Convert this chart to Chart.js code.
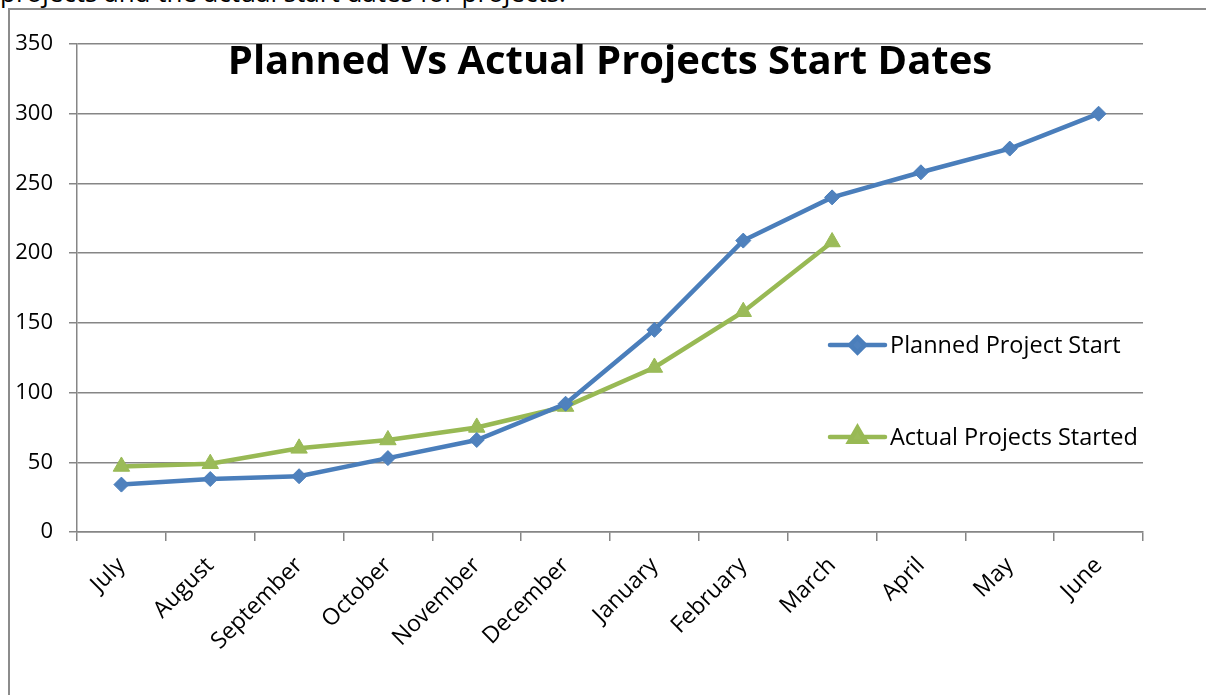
<!DOCTYPE html>
<html>
<head>
<meta charset="utf-8">
<script src="https://cdn.jsdelivr.net/npm/chart.js@4"></script>
<style>
  html, body { margin: 0; padding: 0; background: #fff; overflow: hidden; }
  #intro { position: absolute; left: 0; top: -21px; margin: 0; font: 26px/26px "Open Sans", sans-serif; color: #000; white-space: nowrap; }
  #frame { position: absolute; left: 8px; top: 8px; width: 1220px; height: 720px; border-left: 2px solid #8c8c8c; border-top: 2px solid #8c8c8c; }
  #wrap { position: absolute; left: 0; top: 0; width: 1206px; height: 695px; }
</style>
</head>
<body>
<p id="intro">projects and the actual start dates for projects.</p>
<div id="frame"></div>
<div id="wrap"><canvas id="startChart"></canvas></div>
<script>
const months = ['July', 'August', 'September', 'October', 'November', 'December',
  'January', 'February', 'March', 'April', 'May', 'June'];
const plannedStarts = [34, 38, 40, 53, 66, 92, 145, 209, 240, 258, 275, 300];
const actualStarts = [47, 49, 60, 66, 75, 90, 118, 158, 208, null, null, null];
const yTicks = [0, 50, 100, 150, 200, 250, 300, 350];
const seriesNames = ['Planned Project Start', 'Actual Projects Started'];

const gridGrey = '#868686';
const font = '"Open Sans", sans-serif';

// title sits on top of the plot area, like the excel one
const titlePlugin = {
  id: 'overTitle',
  afterDraw(chart) {
    const ctx = chart.ctx;
    const area = chart.chartArea;
    ctx.save();
    ctx.font = 'bold 40px ' + font;
    ctx.fillStyle = '#000';
    ctx.textAlign = 'center';
    ctx.textBaseline = 'alphabetic';
    ctx.fillText('Planned Vs Actual Projects Start Dates', (area.left + area.right) / 2, area.top + 30);
    ctx.restore();
  }
};

// legend stacked inside the right side of the plot
const sideLegend = {
  id: 'sideLegend',
  afterDraw(chart) {
    const ctx = chart.ctx;
    const x0 = 830, x1 = 885;
    const rows = [345, 437];
    chart.data.datasets.forEach((ds, i) => {
      const y = rows[i];
      ctx.save();
      ctx.strokeStyle = ds.borderColor;
      ctx.lineWidth = ds.borderWidth;
      ctx.lineCap = 'round';
      ctx.beginPath();
      ctx.moveTo(x0, y);
      ctx.lineTo(x1, y);
      ctx.stroke();
      ctx.fillStyle = ds.pointBackgroundColor;
      ctx.strokeStyle = ds.pointBorderColor;
      Chart.helpers.drawPoint(ctx, {
        pointStyle: ds.pointStyle, radius: ds.pointRadius, rotation: 0, borderWidth: 1
      }, (x0 + x1) / 2, y);
      ctx.font = '23.5px ' + font;
      ctx.fillStyle = '#000';
      ctx.textAlign = 'left';
      ctx.textBaseline = 'middle';
      ctx.fillText(ds.label, x1 + 5, y + 1);
      ctx.restore();
    });
  }
};

new Chart(document.getElementById('startChart'), {
  type: 'line',
  data: {
    labels: months,
    datasets: [{
      label: seriesNames[0],
      data: plannedStarts,
      borderColor: '#4A7EBB',
      borderWidth: 4.5,
      pointStyle: 'rectRot',
      pointRadius: 7.5,
      pointBackgroundColor: '#4F81BD',
      pointBorderColor: '#4A7EBB',
      pointBorderWidth: 1,
      tension: 0
    }, {
      label: seriesNames[1],
      data: actualStarts,
      borderColor: '#98B954',
      borderWidth: 4.5,
      pointStyle: 'triangle',
      pointRadius: 9.5,
      pointBackgroundColor: '#9BBB59',
      pointBorderColor: '#98B954',
      pointBorderWidth: 1,
      tension: 0
    }]
  },
  options: {
    responsive: true,
    maintainAspectRatio: false,
    animation: false,
    layout: { padding: { top: 44, right: 63, left: 0, bottom: 0 } },
    plugins: {
      legend: { display: false },
      tooltip: { enabled: false }
    },
    scales: {
      x: {
        offset: true,
        grid: { offset: true, drawOnChartArea: false, tickLength: 9, color: gridGrey, lineWidth: 1.5 },
        border: { color: gridGrey, width: 1.5 },
        ticks: { minRotation: 45, maxRotation: 45, padding: 11, color: '#000', font: { family: font, size: 23 } },
        afterFit(scale) { scale.height = 163; }
      },
      y: {
        min: 0,
        max: 350,
        afterBuildTicks(scale) { scale.ticks = yTicks.map(v => ({ value: v })); },
        grid: { color: gridGrey, lineWidth: 1.5, tickLength: 8 },
        border: { color: gridGrey, width: 1.5 },
        ticks: { padding: 16, color: '#000', font: { family: font, size: 22 } },
        afterFit(scale) { scale.width = 77; }
      }
    }
  },
  plugins: [titlePlugin, sideLegend]
});
</script>
</body>
</html>
